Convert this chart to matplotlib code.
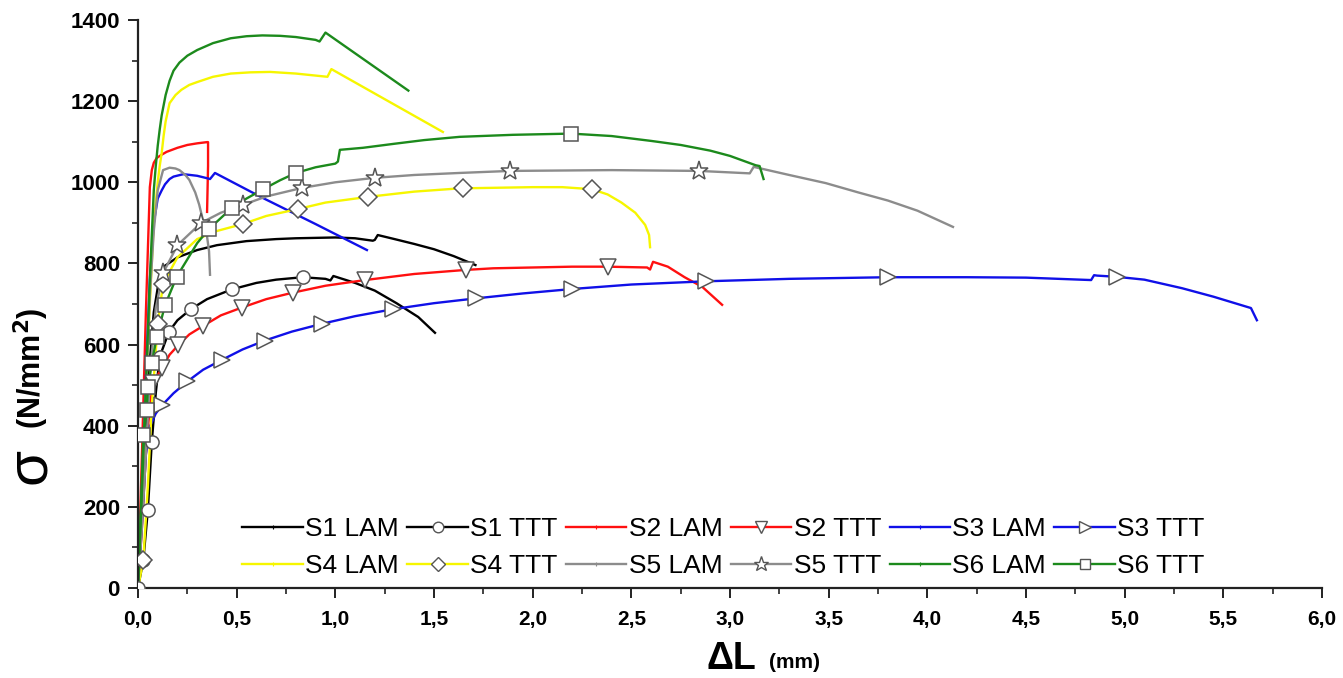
import matplotlib
matplotlib.use("Agg")
import matplotlib.pyplot as plt
from matplotlib.lines import Line2D
from matplotlib.ticker import MultipleLocator, FuncFormatter

# ---------------- data ----------------
S1_LAM_x = [0, 0.02, 0.04, 0.06, 0.08, 0.1, 0.127, 0.2, 0.3, 0.4, 0.55, 0.7, 0.8, 1.0, 1.1, 1.19, 1.2, 1.215, 1.3, 1.4, 1.5, 1.6, 1.71]
S1_LAM_y = [0, 180, 380, 560, 680, 740, 791, 815, 833, 845, 855, 860, 862, 864, 862, 856, 858, 870, 860, 848, 835, 818, 796]

S1_TTT_x = [0, 0.027, 0.05, 0.07, 0.09, 0.11, 0.157, 0.2, 0.27, 0.35, 0.475, 0.6, 0.7, 0.834, 0.95, 0.975, 0.99, 1.1, 1.2, 1.31, 1.42, 1.505]
S1_TTT_y = [0, 69, 192, 361, 480, 570, 632, 660, 688, 712, 736, 752, 760, 766, 762, 758, 769, 752, 733, 702, 668, 629]
S1_TTT_mx = [0, 0.027, 0.05, 0.07, 0.11, 0.157, 0.27, 0.475, 0.834]
S1_TTT_my = [0, 69, 192, 361, 570, 632, 688, 736, 766]

S2_LAM_x = [0, 0.02, 0.04, 0.06, 0.07, 0.08, 0.095, 0.12, 0.145, 0.2, 0.25, 0.3, 0.35, 0.355, 0.355, 0.35]
S2_LAM_y = [0, 330, 680, 988, 1030, 1048, 1060, 1068, 1075, 1085, 1092, 1096, 1099, 1099, 1040, 927]

S2_TTT_x = [0, 0.02, 0.04, 0.06, 0.077, 0.1, 0.123, 0.16, 0.205, 0.26, 0.33, 0.42, 0.525, 0.65, 0.785, 0.95, 1.15, 1.4, 1.66, 1.8, 2.0, 2.2, 2.38, 2.58, 2.595, 2.61, 2.685, 2.77, 2.86, 2.96]
S2_TTT_y = [0, 150, 330, 450, 505, 525, 543, 575, 599, 625, 646, 672, 691, 712, 728, 745, 759, 774, 784, 788, 790, 792, 792, 790, 785, 804, 792, 766, 742, 698]
S2_TTT_mx = [0.077, 0.123, 0.205, 0.33, 0.525, 0.785, 1.15, 1.66, 2.38]
S2_TTT_my = [505, 543, 599, 646, 691, 728, 759, 784, 792]

S3_LAM_x = [0, 0.02, 0.04, 0.06, 0.08, 0.1, 0.12, 0.137, 0.16, 0.18, 0.23, 0.3, 0.35, 0.365, 0.39, 0.63, 0.9, 1.16]
S3_LAM_y = [0, 250, 520, 760, 900, 960, 980, 995, 1008, 1014, 1020, 1016, 1010, 1008, 1023, 962, 897, 833]

S3_TTT_x = [0, 0.02, 0.04, 0.06, 0.09, 0.123, 0.18, 0.25, 0.33, 0.424, 0.53, 0.643, 0.78, 0.93, 1.1, 1.29, 1.5, 1.715, 1.95, 2.2, 2.5, 2.88, 3.3, 3.8, 4.2, 4.5, 4.83, 4.845, 4.86, 4.96, 5.1, 5.29, 5.45, 5.64, 5.67]
S3_TTT_y = [0, 160, 330, 398, 430, 451, 480, 509, 538, 562, 588, 610, 632, 651, 670, 687, 702, 714, 726, 737, 748, 756, 762, 766, 766, 765, 759, 771, 770, 767, 760, 739, 718, 690, 660]
S3_TTT_mx = [0.123, 0.25, 0.424, 0.643, 0.93, 1.29, 1.715, 2.2, 2.88, 3.8, 4.96]
S3_TTT_my = [451, 509, 562, 610, 651, 687, 714, 737, 756, 766, 767]

S4_LAM_x = [0, 0.02, 0.04, 0.06, 0.08, 0.1, 0.11, 0.12, 0.13, 0.14, 0.16, 0.19, 0.22, 0.26, 0.3, 0.38, 0.47, 0.57, 0.67, 0.8, 0.96, 0.98, 1.545]
S4_LAM_y = [0, 230, 470, 700, 900, 1000, 1040, 1072, 1115, 1150, 1195, 1215, 1228, 1240, 1247, 1260, 1268, 1271, 1272, 1268, 1260, 1279, 1124]

S4_TTT_x = [0, 0.027, 0.05, 0.07, 0.1, 0.127, 0.2, 0.3, 0.4, 0.53, 0.65, 0.81, 0.95, 1.165, 1.4, 1.63, 2.0, 2.15, 2.3, 2.38, 2.45, 2.52, 2.57, 2.59, 2.595]
S4_TTT_y = [0, 70, 250, 450, 650, 750, 815, 860, 880, 897, 917, 934, 950, 964, 977, 985, 988, 988, 983, 970, 950, 925, 895, 870, 840]
S4_TTT_mx = [0.027, 0.1, 0.127, 0.53, 0.81, 1.165, 1.645, 2.3]
S4_TTT_my = [70, 650, 750, 897, 934, 964, 985, 983]

S5_LAM_x = [0, 0.02, 0.04, 0.06, 0.08, 0.1, 0.127, 0.16, 0.19, 0.21, 0.24, 0.26, 0.29, 0.31, 0.33, 0.35, 0.36, 0.365]
S5_LAM_y = [0, 230, 480, 720, 880, 980, 1030, 1036, 1034, 1030, 1018, 1006, 975, 945, 905, 866, 830, 772]

S5_TTT_x = [0, 0.02, 0.04, 0.06, 0.09, 0.127, 0.2, 0.32, 0.42, 0.53, 0.65, 0.83, 1.0, 1.2, 1.4, 1.63, 1.885, 2.4, 2.845, 3.1, 3.11, 3.12, 3.3, 3.485, 3.65, 3.8, 3.95, 4.13]
S5_TTT_y = [0, 150, 330, 520, 690, 776, 845, 900, 925, 944, 965, 986, 1000, 1011, 1018, 1023, 1028, 1030, 1028, 1022, 1030, 1038, 1018, 998, 975, 955, 930, 890]
S5_TTT_mx = [0.127, 0.2, 0.32, 0.53, 0.83, 1.2, 1.885, 2.845]
S5_TTT_my = [776, 845, 900, 944, 986, 1011, 1028, 1028]

S6_LAM_x = [0, 0.02, 0.04, 0.06, 0.08, 0.09, 0.1, 0.11, 0.12, 0.14, 0.16, 0.18, 0.21, 0.25, 0.3, 0.38, 0.47, 0.55, 0.63, 0.72, 0.8, 0.9, 0.92, 0.95, 1.37]
S6_LAM_y = [0, 240, 500, 760, 980, 1040, 1090, 1130, 1165, 1215, 1250, 1275, 1295, 1312, 1326, 1343, 1355, 1360, 1362, 1361, 1358, 1351, 1347, 1369, 1226]

S6_TTT_x = [0, 0.015, 0.027, 0.044, 0.05, 0.07, 0.095, 0.137, 0.196, 0.25, 0.3, 0.36, 0.42, 0.476, 0.55, 0.635, 0.72, 0.8, 0.9, 1.0, 1.013, 1.023, 1.14, 1.3, 1.45, 1.63, 1.9, 2.195, 2.4, 2.6, 2.75, 2.9, 3.0, 3.13, 3.15, 3.17]
S6_TTT_y = [0, 200, 377, 439, 496, 554, 619, 697, 767, 810, 850, 885, 912, 937, 960, 983, 1005, 1023, 1037, 1046, 1051, 1080, 1085, 1095, 1104, 1112, 1117, 1120, 1114, 1102, 1092, 1078, 1065, 1042, 1040, 1008]
S6_TTT_mx = [0.027, 0.044, 0.05, 0.07, 0.095, 0.137, 0.196, 0.36, 0.476, 0.635, 0.8, 2.195]
S6_TTT_my = [377, 439, 496, 554, 619, 697, 767, 885, 937, 983, 1023, 1120]

labels_row1 = ["S1 LAM", "S1 TTT", "S2 LAM", "S2 TTT", "S3 LAM", "S3 TTT"]
labels_row2 = ["S4 LAM", "S4 TTT", "S5 LAM", "S5 TTT", "S6 LAM", "S6 TTT"]
x_ticks = [0, 0.5, 1.0, 1.5, 2.0, 2.5, 3.0, 3.5, 4.0, 4.5, 5.0, 5.5, 6.0]
y_ticks = [0, 200, 400, 600, 800, 1000, 1200, 1400]

# ---------------- style ----------------
BLACK = "#000000"
RED = "#ff1010"
BLUE = "#1010e8"
YELLOW = "#f6f600"
GRAY = "#8c8c8c"
GREEN = "#1c8a1c"
MEC = "#555555"
ARIAL = ["Liberation Sans", "DejaVu Sans"]

fig = plt.figure(figsize=(13.43, 6.78), dpi=100)
ax = fig.add_axes([138 / 1343, 90 / 678, (1322 - 138) / 1343, (588 - 20) / 678])

LW = 1.7
series = [
    (S1_LAM_x, S1_LAM_y, None, None, BLACK, None),
    (S1_TTT_x, S1_TTT_y, S1_TTT_mx, S1_TTT_my, BLACK, "o"),
    (S2_LAM_x, S2_LAM_y, None, None, RED, None),
    (S2_TTT_x, S2_TTT_y, S2_TTT_mx, S2_TTT_my, RED, "v"),
    (S3_LAM_x, S3_LAM_y, None, None, BLUE, None),
    (S3_TTT_x, S3_TTT_y, S3_TTT_mx, S3_TTT_my, BLUE, ">"),
    (S4_LAM_x, S4_LAM_y, None, None, YELLOW, None),
    (S4_TTT_x, S4_TTT_y, S4_TTT_mx, S4_TTT_my, YELLOW, "D"),
    (S5_LAM_x, S5_LAM_y, None, None, GRAY, None),
    (S5_TTT_x, S5_TTT_y, S5_TTT_mx, S5_TTT_my, GRAY, "*"),
    (S6_LAM_x, S6_LAM_y, None, None, GREEN, None),
    (S6_TTT_x, S6_TTT_y, S6_TTT_mx, S6_TTT_my, GREEN, "s"),
]
msize = {"o": 9.5, "v": 11.5, ">": 11.5, "D": 9.5, "*": 14, "s": 9.5}

handles = []
for (x, y, mx, my, c, m) in series:
    ax.plot(x, y, color=c, lw=LW, zorder=2, solid_joinstyle="round")
    if m is not None:
        ax.plot(mx, my, linestyle="none", marker=m, ms=msize[m], mfc="white",
                mec=MEC, mew=1.1, zorder=3)
        handles.append(Line2D([], [], color=c, lw=LW, marker=m, ms=msize[m] * 0.8,
                              mfc="white", mec=MEC, mew=1.0))
    else:
        handles.append(Line2D([], [], color=c, lw=LW, marker="+", ms=3, mew=0.8))

ax.set_xlim(0, 6.0)
ax.set_ylim(0, 1400)
ax.set_xticks(x_ticks)
ax.set_yticks(y_ticks)
ax.xaxis.set_minor_locator(MultipleLocator(0.25))
ax.yaxis.set_minor_locator(MultipleLocator(100))
ax.xaxis.set_major_formatter(FuncFormatter(lambda v, p: f"{v:.1f}".replace(".", ",")))
ax.tick_params(which="major", direction="out", length=7, width=1.4, color="#222222")
ax.tick_params(which="minor", direction="out", length=4.5, width=1.2, color="#222222")
ax.tick_params(axis="y", pad=6)
ax.tick_params(axis="x", pad=9)
for lab in ax.get_yticklabels():
    lab.set_fontfamily(ARIAL)
    lab.set_fontweight("bold")
    lab.set_fontsize(16)
for lab in ax.get_xticklabels():
    lab.set_fontfamily(ARIAL)
    lab.set_fontweight("bold")
    lab.set_fontsize(15)
for s in ["top", "right"]:
    ax.spines[s].set_visible(False)
for s in ["left", "bottom"]:
    ax.spines[s].set_linewidth(1.6)
    ax.spines[s].set_color("#222222")

# axis labels
fig.text(30 / 1343, 1 - 466 / 678, "\u03c3", rotation=90, fontsize=42,
         family=ARIAL, ha="center", va="center")
fig.text(31 / 1343, 1 - 368 / 678, "(N/mm$^\\mathbf{2}$)", rotation=90, fontsize=22,
         family=ARIAL, fontweight="bold", ha="center", va="center")
fig.text(731 / 1343, 1 - 659 / 678, "\u0394L", fontsize=27, family=ARIAL,
         fontweight="bold", ha="center", va="center")
fig.text(795 / 1343, 1 - 663 / 678, "(mm)", fontsize=15, family=ARIAL,
         fontweight="bold", ha="center", va="center")

# legend: 2 rows x 6 columns, filled row-wise
order = []
for j in range(6):
    order.append(j)
    order.append(6 + j)
all_labels = labels_row1 + labels_row2
leg = ax.legend([handles[i] for i in order], [all_labels[i] for i in order],
                ncol=6, frameon=False, loc="upper left",
                bbox_to_anchor=((237 - 138) / (1322 - 138), (588 - 512) / (588 - 20)),
                prop={"family": ARIAL, "size": 19},
                handlelength=2.3, handletextpad=0.08, columnspacing=0.32,
                labelspacing=0.5, borderpad=0.2, borderaxespad=0)

fig.savefig("out.png", dpi=100)
